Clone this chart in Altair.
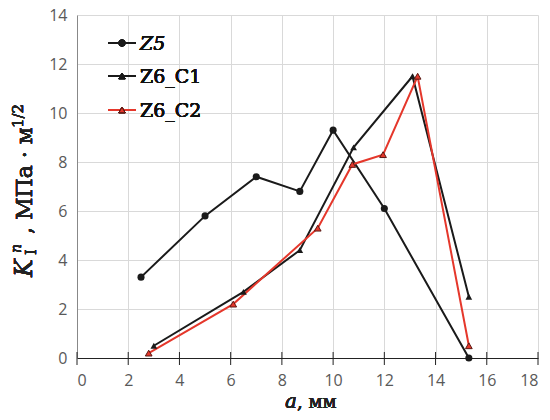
import altair as alt
import pandas as pd

z5_x = [2.5, 5.0, 7.0, 8.7, 10.0, 12.0, 15.3]
z5_y = [3.3, 5.8, 7.4, 6.8, 9.3, 6.1, 0.0]
c1_x = [3.0, 6.5, 8.7, 10.8, 13.1, 15.3]
c1_y = [0.5, 2.7, 4.4, 8.6, 11.5, 2.5]
c2_x = [2.8, 6.1, 9.4, 10.75, 11.95, 13.3, 15.3]
c2_y = [0.2, 2.2, 5.3, 7.9, 8.3, 11.5, 0.5]
x_ticks = [0, 2, 4, 6, 8, 10, 12, 14, 16, 18]
y_ticks = [0, 2, 4, 6, 8, 10, 12, 14]

RED = "#e5372b"
DARK = "#1a1a1a"
SERIF = "DejaVu Serif"
SANS = "Open Sans"

def frame(xs, ys):
    return pd.DataFrame({"a": xs, "k": ys, "i": list(range(len(xs)))})

xs = alt.Scale(domain=[0, 18], nice=False)
ys = alt.Scale(domain=[0, 14], nice=False)

xenc = alt.X("a:Q", scale=xs, axis=alt.Axis(values=x_ticks, title=None, grid=True, gridColor="#d9d9d9",
                                           domainColor="#222222", tickColor="#222222", tickSize=0,
                                           labelFont=SANS, labelFontSize=16, labelColor="#595959",
                                           labelPadding=14, domainWidth=1.2))
yenc = alt.Y("k:Q", scale=ys, axis=alt.Axis(values=y_ticks, title=None, grid=True, gridColor="#d9d9d9",
                                           domainColor="#888888", tickSize=0,
                                           labelFont=SANS, labelFontSize=16, labelColor="#595959",
                                           labelPadding=10))

base = alt.Chart(frame(z5_x, z5_y))

z5_line = alt.Chart(frame(z5_x, z5_y)).mark_line(color=DARK, strokeWidth=2).encode(x=xenc, y=yenc, order="i:Q")
z5_pts = alt.Chart(frame(z5_x, z5_y)).mark_point(shape="circle", filled=True, color=DARK, size=50, opacity=1).encode(x="a:Q", y="k:Q")
c1_line = alt.Chart(frame(c1_x, c1_y)).mark_line(color=DARK, strokeWidth=2).encode(x="a:Q", y="k:Q", order="i:Q")
c1_pts = alt.Chart(frame(c1_x, c1_y)).mark_point(shape="triangle-up", filled=True, color=DARK, size=45, opacity=1).encode(x="a:Q", y="k:Q")
c2_line = alt.Chart(frame(c2_x, c2_y)).mark_line(color=RED, strokeWidth=2).encode(x="a:Q", y="k:Q", order="i:Q")
c2_pts = alt.Chart(frame(c2_x, c2_y)).mark_point(shape="triangle-up", filled=True, fill=RED, stroke="#5a1a14", strokeWidth=1, size=45, opacity=1).encode(x="a:Q", y="k:Q")

tick_df = pd.DataFrame({"a": x_ticks})
xticks = alt.Chart(tick_df).mark_rule(color="#222222", strokeWidth=1).encode(x="a:Q", y=alt.value(337), y2=alt.value(350))

# legend
leg = []
leg_items = [("Z5", DARK, "circle", DARK, "italic", 28), ("Z6_C1", DARK, "triangle-up", DARK, "normal", 61), ("Z6_C2", RED, "triangle-up", RED, "normal", 95)]
for lab, col, shp, fillc, style, yy in leg_items:
    leg.append(alt.Chart(base.data).mark_rule(color=col, strokeWidth=2).encode(x=alt.value(31), x2=alt.value(59), y=alt.value(yy)))
    leg.append(alt.Chart(base.data).mark_point(shape=shp, filled=True, fill=fillc, stroke=("#5a1a14" if col == RED else col),
                                               strokeWidth=1, size=40, opacity=1).encode(x=alt.value(45), y=alt.value(yy)))
    leg.append(alt.Chart(base.data).mark_text(text=lab, font=SERIF, fontSize=19, fontStyle=style, color="#111111",
                                              align="left", baseline="middle").encode(x=alt.value(63), y=alt.value(yy + 1)))

# axis titles
tx = alt.Chart(base.data)
xt1 = tx.mark_text(text="a", font=SERIF, fontSize=20, fontStyle="italic", color="#222222", align="right", baseline="alphabetic").encode(x=alt.value(220), y=alt.value(393))
xt2 = tx.mark_text(text=", мм", font=SERIF, fontSize=18, color="#222222", align="left", baseline="alphabetic").encode(x=alt.value(220), y=alt.value(393))

bx = -45
yt_k = tx.mark_text(text="K", font=SERIF, fontSize=24, fontStyle="italic", color="#222222", angle=270, align="left", baseline="alphabetic").encode(x=alt.value(bx), y=alt.value(262))
yt_i = tx.mark_text(text="I", font=SERIF, fontSize=15, color="#222222", angle=270, align="left", baseline="alphabetic").encode(x=alt.value(bx + 4), y=alt.value(240))
yt_n = tx.mark_text(text="n", font=SERIF, fontSize=14, fontStyle="italic", color="#222222", angle=270, align="left", baseline="alphabetic").encode(x=alt.value(bx - 11), y=alt.value(238))
yt_m = tx.mark_text(text=", МПа · м", font=SERIF, fontSize=22, color="#222222", angle=270, align="left", baseline="alphabetic").encode(x=alt.value(bx), y=alt.value(219))
yt_h = tx.mark_text(text="1/2", font=SERIF, fontSize=15, color="#222222", angle=270, align="left", baseline="alphabetic").encode(x=alt.value(bx - 9), y=alt.value(113))

chart = alt.layer(z5_line, xticks, c1_line, c2_line, z5_pts, c1_pts, c2_pts, *leg, xt1, xt2, yt_k, yt_i, yt_n, yt_m, yt_h).properties(
    width=461, height=343,
    autosize=alt.AutoSizeParams(type="none"),
    padding={"left": 69, "top": 7, "right": 2, "bottom": 54},
).configure_view(stroke=None)

chart.save("out.html", embed_options={"renderer": "svg", "actions": False})
